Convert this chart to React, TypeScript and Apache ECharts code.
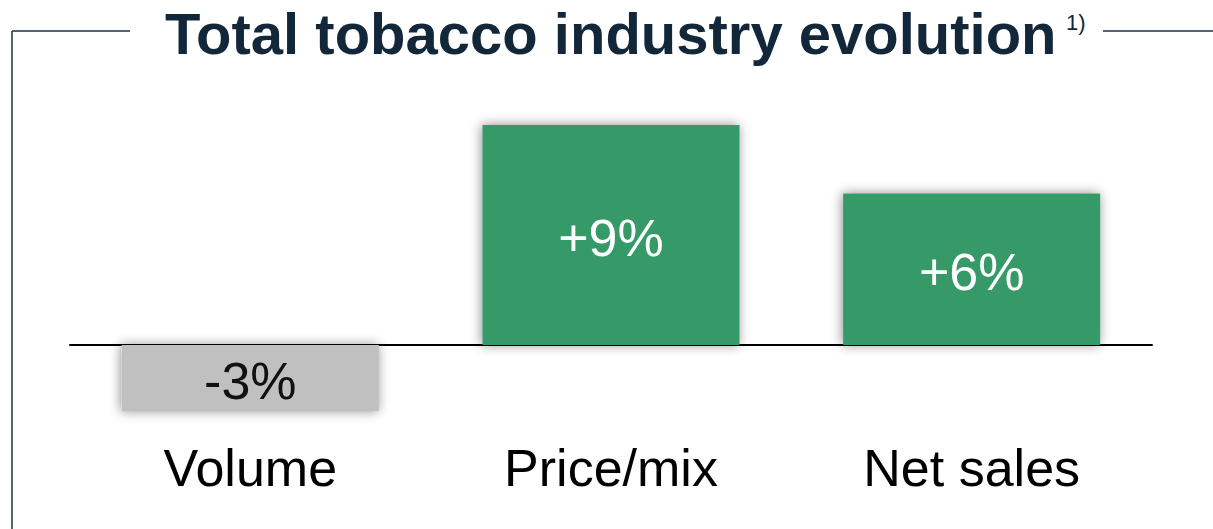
import React, { useEffect, useRef } from "react";
import * as echarts from "echarts";

const categories = ["Volume", "Price/mix", "Net sales"];
const values = [-2.7, 9.0, 6.2];
const barColors = ["#c0c0c0", "#359968", "#359968"];
const labelColors = ["#111111", "#ffffff", "#ffffff"];
const titleText = "Total tobacco industry evolution";
const footnote = "1)";

const fmt = (v: number) => (v > 0 ? "+" : "-") + Math.abs(Math.round(v)) + "%";

export default function App() {
  const ref = useRef<HTMLDivElement>(null);
  useEffect(() => {
    if (!ref.current) return;
    const chart = echarts.init(ref.current, null, { renderer: "svg" });
    const font = "'Liberation Sans', Arial, sans-serif";
    const frameStyle = { stroke: "#1e2f40", lineWidth: 1.5 };
    chart.setOption({
      animation: false,
      backgroundColor: "#ffffff",
      grid: { left: 70, right: 61, top: 125, bottom: 110.7 },
      xAxis: [
        {
          type: "category",
          data: categories,
          axisLine: { onZero: true, lineStyle: { color: "#000000", width: 2 } },
          axisTick: { show: false },
          axisLabel: { show: false },
        },
        {
          type: "category",
          data: categories,
          position: "bottom",
          axisLine: { show: false },
          axisTick: { show: false },
          axisLabel: {
            margin: 24,
            fontSize: 52,
            lineHeight: 52,
            fontFamily: font,
            color: "#000000",
          },
        },
      ],
      yAxis: {
        type: "value",
        min: -3,
        max: 9,
        interval: 3,
        show: false,
        splitLine: { show: false },
      },
      series: [
        {
          type: "bar",
          xAxisIndex: 0,
          barWidth: 257,
          data: values.map((v, i) => ({
            value: v,
            itemStyle: {
              color: barColors[i],
              shadowBlur: 12,
              shadowColor: "rgba(0,0,0,0.45)",
              shadowOffsetX: -1,
              shadowOffsetY: 0,
            },
            label: { color: labelColors[i] },
          })),
          label: {
            show: true,
            position: "inside",
            offset: [0, 3],
            fontSize: 52,
            fontFamily: font,
            formatter: (p: any) => fmt(p.value),
          },
          z: 1,
        },
      ],
      graphic: [
        {
          type: "line",
          shape: { x1: 12, y1: 31, x2: 130, y2: 31 },
          style: frameStyle,
        },
        {
          type: "line",
          shape: { x1: 1103, y1: 31, x2: 1213, y2: 31 },
          style: frameStyle,
        },
        {
          type: "line",
          shape: { x1: 12, y1: 31, x2: 12, y2: 529 },
          style: frameStyle,
        },
        {
          type: "text",
          x: 165,
          y: 33,
          style: {
            text: titleText,
            fontSize: 58,
            fontWeight: "bold",
            fontFamily: font,
            fill: "#13273a",
            verticalAlign: "middle",
            align: "left",
          },
        },
        {
          type: "text",
          x: 1066,
          y: 22,
          style: {
            text: footnote,
            fontSize: 22,
            fontFamily: font,
            fill: "#13273a",
            verticalAlign: "middle",
            align: "left",
          },
        },
      ],
    });
    return () => chart.dispose();
  }, []);
  return (
    <div
      ref={ref}
      style={{ position: "fixed", left: 0, top: 0, width: 1213, height: 529 }}
    />
  );
}
